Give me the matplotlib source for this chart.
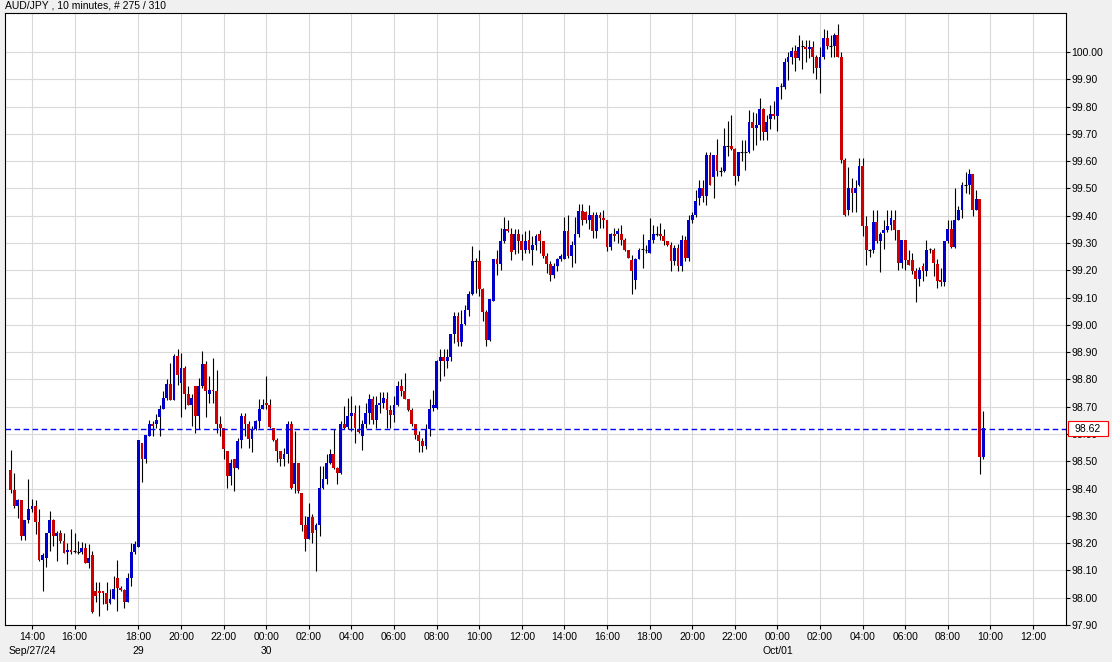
import matplotlib
matplotlib.use("Agg")
import matplotlib.pyplot as plt
from matplotlib.patches import Rectangle
from matplotlib.transforms import blended_transform_factory
import numpy as np

plt.rcParams['font.family'] = ['Liberation Sans', 'DejaVu Sans']

# ---- AUD/JPY 10-minute candles (bar index 0 .. 274) ----
opens = [
98.467,98.395,98.336,98.357,98.226,98.284,98.324,98.336,98.278,98.139,
98.147,98.236,98.284,98.226,98.236,98.208,98.168,98.174,98.171,98.168,
98.168,98.184,98.129,98.156,98.025,98.025,98.025,98.017,97.979,97.995,
98.074,98.034,98.029,97.985,98.074,98.166,98.187,98.566,98.507,98.592,
98.635,98.635,98.663,98.692,98.733,98.785,98.726,98.885,98.787,98.842,
98.745,98.705,98.775,98.666,98.775,98.855,98.745,98.763,98.757,98.635,
98.623,98.537,98.446,98.507,98.477,98.578,98.666,98.635,98.580,98.617,
98.647,98.692,98.715,98.705,98.623,98.578,98.537,98.510,98.525,98.635,
98.416,98.495,98.385,98.265,98.214,98.294,98.247,98.265,98.403,98.434,
98.495,98.525,98.474,98.456,98.635,98.627,98.666,98.676,98.619,98.593,
98.635,98.676,98.727,98.653,98.705,98.715,98.727,98.688,98.668,98.705,
98.776,98.757,98.727,98.688,98.635,98.595,98.574,98.556,98.617,98.696,
98.696,98.867,98.883,98.867,98.883,98.965,99.034,98.937,99.005,99.056,
99.113,99.235,99.235,99.133,99.048,98.946,99.087,99.243,99.224,99.306,
99.352,99.333,99.276,99.333,99.306,99.276,99.312,99.276,99.294,99.333,
99.306,99.251,99.223,99.184,99.215,99.243,99.243,99.345,99.251,99.294,
99.333,99.416,99.413,99.385,99.404,99.345,99.404,99.391,99.385,99.284,
99.333,99.333,99.333,99.312,99.276,99.239,99.166,99.243,99.276,99.273,
99.263,99.312,99.333,99.333,99.324,99.306,99.294,99.235,99.282,99.215,
99.312,99.245,99.385,99.404,99.465,99.501,99.474,99.623,99.543,99.623,
99.565,99.565,99.654,99.654,99.645,99.544,99.635,99.633,99.633,99.743,
99.723,99.733,99.791,99.706,99.755,99.772,99.764,99.873,99.873,99.965,
99.983,100.004,99.977,100.020,100.020,100.010,100.020,99.983,99.943,99.983,
100.050,100.022,100.022,100.062,99.983,99.605,99.422,99.501,99.485,99.513,
99.583,99.363,99.276,99.276,99.376,99.306,99.337,99.346,99.367,99.385,
99.346,99.227,99.312,99.237,99.237,99.196,99.168,99.215,99.196,99.276,
99.276,99.224,99.166,99.156,99.306,99.351,99.285,99.385,99.422,99.513,
99.513,99.553,99.422,99.461,98.517]

highs = [
98.543,98.458,98.363,98.357,98.284,98.434,98.363,98.357,98.324,98.165,
98.236,98.318,98.290,98.245,98.248,98.239,98.202,98.251,98.236,98.208,
98.204,98.202,98.196,98.170,98.056,98.058,98.025,98.056,98.031,98.080,
98.139,98.044,98.031,98.092,98.202,98.208,98.578,98.566,98.595,98.653,
98.647,98.672,98.708,98.757,98.802,98.861,98.895,98.912,98.897,98.848,
98.775,98.745,98.775,98.806,98.903,98.867,98.812,98.879,98.836,98.666,
98.623,98.537,98.507,98.507,98.586,98.678,98.678,98.647,98.629,98.653,
98.727,98.727,98.814,98.727,98.623,98.586,98.537,98.550,98.647,98.647,
98.610,98.495,98.385,98.300,98.348,98.306,98.275,98.483,98.483,98.525,
98.544,98.620,98.480,98.647,98.702,98.733,98.741,98.705,98.705,98.653,
98.715,98.745,98.739,98.739,98.753,98.753,98.753,98.705,98.739,98.794,
98.802,98.824,98.729,98.696,98.635,98.611,98.586,98.635,98.727,98.760,
98.873,98.912,98.912,98.912,98.965,99.046,99.046,99.056,99.074,99.123,
99.288,99.245,99.276,99.135,99.055,99.093,99.243,99.276,99.355,99.394,
99.385,99.355,99.352,99.352,99.333,99.345,99.348,99.324,99.333,99.349,
99.306,99.263,99.233,99.227,99.245,99.260,99.394,99.404,99.306,99.394,
99.443,99.443,99.416,99.440,99.413,99.413,99.413,99.422,99.385,99.336,
99.355,99.355,99.365,99.320,99.276,99.257,99.245,99.282,99.333,99.294,
99.392,99.367,99.361,99.373,99.352,99.306,99.304,99.294,99.296,99.330,
99.324,99.404,99.413,99.495,99.532,99.532,99.635,99.635,99.623,99.682,
99.580,99.721,99.747,99.770,99.650,99.635,99.678,99.678,99.788,99.779,
99.775,99.830,99.794,99.770,99.806,99.821,99.873,99.885,99.977,100.000,
100.020,100.025,100.062,100.044,100.044,100.044,100.040,99.990,100.020,100.084,
100.080,100.062,100.071,100.102,100.001,99.611,99.580,99.538,99.532,99.611,
99.611,99.398,99.278,99.422,99.422,99.340,99.385,99.422,99.422,99.422,
99.346,99.312,99.312,99.276,99.264,99.208,99.212,99.227,99.312,99.282,
99.282,99.242,99.208,99.306,99.385,99.385,99.501,99.434,99.522,99.562,
99.570,99.553,99.493,99.461,98.684]

lows = [
98.385,98.330,98.291,98.212,98.212,98.275,98.314,98.235,98.135,98.025,
98.114,98.171,98.190,98.135,98.202,98.165,98.123,98.159,98.165,98.159,
98.159,98.126,98.110,97.944,97.983,97.934,97.977,97.956,97.977,97.995,
97.952,98.025,97.964,97.983,98.044,98.160,98.187,98.424,98.492,98.592,
98.592,98.623,98.592,98.692,98.726,98.724,98.724,98.781,98.663,98.690,
98.705,98.631,98.605,98.617,98.770,98.663,98.714,98.714,98.605,98.592,
98.507,98.403,98.412,98.391,98.470,98.550,98.592,98.550,98.534,98.615,
98.623,98.692,98.692,98.622,98.574,98.497,98.483,98.483,98.495,98.400,
98.385,98.385,98.245,98.172,98.214,98.202,98.099,98.227,98.398,98.416,
98.490,98.470,98.416,98.452,98.620,98.617,98.611,98.566,98.602,98.541,
98.623,98.635,98.635,98.623,98.678,98.696,98.623,98.623,98.644,98.702,
98.739,98.727,98.684,98.629,98.580,98.534,98.534,98.544,98.593,98.684,
98.690,98.794,98.812,98.842,98.867,98.934,98.924,98.922,99.000,99.032,
99.110,99.117,99.105,99.013,98.922,98.940,99.087,99.184,99.200,99.300,
99.342,99.239,99.260,99.263,99.239,99.263,99.263,99.221,99.276,99.263,
99.245,99.190,99.162,99.172,99.199,99.233,99.240,99.245,99.211,99.227,
99.321,99.367,99.373,99.350,99.320,99.320,99.355,99.355,99.272,99.276,
99.306,99.300,99.291,99.270,99.245,99.113,99.130,99.243,99.208,99.263,
99.263,99.300,99.324,99.312,99.291,99.288,99.199,99.221,99.199,99.199,
99.233,99.233,99.373,99.394,99.440,99.452,99.440,99.513,99.465,99.544,
99.545,99.562,99.620,99.642,99.511,99.526,99.600,99.568,99.630,99.641,
99.660,99.678,99.678,99.678,99.718,99.755,99.711,99.828,99.865,99.898,
99.955,99.930,99.971,99.938,99.965,99.977,99.922,99.900,99.849,99.976,
100.010,99.980,99.980,99.980,99.593,99.400,99.404,99.412,99.412,99.510,
99.324,99.221,99.249,99.263,99.300,99.193,99.278,99.340,99.346,99.312,
99.200,99.208,99.202,99.221,99.188,99.083,99.142,99.160,99.180,99.263,
99.180,99.135,99.144,99.142,99.300,99.280,99.282,99.385,99.391,99.483,
99.480,99.400,99.422,98.452,98.507]

closes = [
98.395,98.336,98.357,98.226,98.284,98.324,98.336,98.278,98.139,98.156,
98.236,98.284,98.226,98.236,98.208,98.165,98.174,98.168,98.171,98.168,
98.184,98.129,98.147,97.949,98.007,98.017,98.017,97.977,97.995,98.031,
98.034,98.029,97.985,98.074,98.166,98.196,98.578,98.507,98.595,98.635,
98.630,98.653,98.692,98.733,98.785,98.726,98.885,98.818,98.842,98.745,
98.705,98.733,98.666,98.775,98.855,98.757,98.763,98.757,98.635,98.623,
98.544,98.446,98.495,98.477,98.574,98.666,98.635,98.580,98.617,98.647,
98.692,98.705,98.705,98.627,98.578,98.537,98.510,98.525,98.635,98.403,
98.495,98.390,98.265,98.214,98.294,98.239,98.265,98.403,98.434,98.495,
98.525,98.474,98.456,98.635,98.623,98.666,98.676,98.623,98.607,98.635,
98.676,98.727,98.653,98.705,98.715,98.733,98.688,98.668,98.705,98.776,
98.757,98.729,98.688,98.635,98.595,98.574,98.556,98.617,98.693,98.705,
98.867,98.883,98.867,98.883,98.965,99.034,98.937,99.005,99.056,99.113,
99.235,99.235,99.133,99.048,98.946,99.093,99.243,99.224,99.306,99.352,
99.345,99.267,99.333,99.306,99.276,99.306,99.276,99.294,99.324,99.306,
99.251,99.223,99.184,99.215,99.243,99.254,99.345,99.251,99.294,99.333,
99.416,99.385,99.385,99.404,99.345,99.404,99.391,99.385,99.284,99.333,
99.324,99.345,99.312,99.276,99.245,99.196,99.243,99.276,99.277,99.273,
99.312,99.333,99.334,99.324,99.306,99.294,99.235,99.282,99.215,99.312,
99.245,99.385,99.404,99.455,99.501,99.474,99.623,99.513,99.623,99.565,
99.565,99.654,99.655,99.645,99.544,99.635,99.633,99.633,99.743,99.723,
99.733,99.791,99.706,99.743,99.772,99.764,99.873,99.874,99.965,99.983,
100.004,99.977,100.020,100.021,100.010,100.020,99.983,99.943,99.983,100.050,
100.022,100.022,100.062,99.983,99.605,99.404,99.501,99.485,99.501,99.583,
99.363,99.276,99.276,99.376,99.306,99.334,99.346,99.363,99.391,99.346,
99.227,99.312,99.237,99.221,99.196,99.168,99.202,99.196,99.276,99.277,
99.227,99.160,99.156,99.306,99.351,99.285,99.385,99.422,99.513,99.513,
99.553,99.422,99.461,98.517,98.623]

current_price = 98.62

# time axis: bar index of each labelled tick, and its labels
tick_bars = [6, 18, 36, 48, 60, 72, 84, 96, 108, 120, 132, 144, 156, 168,
             180, 192, 204, 216, 228, 240, 252, 264, 276, 288]
tick_times = ["14:00", "16:00", "18:00", "20:00", "22:00", "00:00", "02:00",
              "04:00", "06:00", "08:00", "10:00", "12:00", "14:00", "16:00",
              "18:00", "20:00", "22:00", "00:00", "02:00", "04:00", "06:00",
              "08:00", "10:00", "12:00"]
tick_dates = {6: "Sep/27/24", 36: "29", 72: "30", 216: "Oct/01"}

title = "AUD/JPY , 10 minutes, # 275 / 310"

# ---- figure ----
W, H = 1112, 662
fig = plt.figure(figsize=(W / 100, H / 100), dpi=100, facecolor="#f0f0f0")
L, R, T, B = 5, 1066, 13, 625
ax = fig.add_axes([L / W, 1 - B / H, (R - L) / W, (B - T) / H])
ax.set_facecolor("white")

o = np.array(opens); h = np.array(highs); l = np.array(lows); c = np.array(closes)
x = np.arange(len(o))

RED = "#cc0000"
BLUE = "#0000cc"

# wicks
ax.vlines(x, l, h, color="black", lw=0.8, zorder=3)
# bodies
diff = c - o
doji = np.abs(diff) < 0.0025
up = (diff > 0) & ~doji
dn = (diff < 0) & ~doji
bw = 0.8
ax.bar(x[up], diff[up], bottom=o[up], width=bw, color=BLUE, lw=0, zorder=4)
ax.bar(x[dn], -diff[dn], bottom=c[dn], width=bw, color=RED, lw=0, zorder=4)
ax.hlines(c[doji], x[doji] - bw / 2, x[doji] + bw / 2, color="black", lw=0.8, zorder=4)

# current price line
ax.axhline(current_price, color="#0000ff", lw=1.0, ls=(0, (4, 2.5)), zorder=5)

# axes limits
ax.set_xlim(-1.6, 297.3)
ax.set_ylim(97.90, 100.143)

# grid
yt = np.round(np.arange(97.9, 100.001, 0.1), 2)
ax.set_yticks(yt)
ax.set_yticklabels([f"{v:.2f}" for v in yt])
ax.yaxis.tick_right()
labels = [t + ("\n" + tick_dates[b] if b in tick_dates else "") for b, t in zip(tick_bars, tick_times)]
ax.set_xticks(tick_bars)
ax.set_xticklabels(labels, linespacing=1.55)
ax.grid(True, color="#d9d9d9", lw=0.8, zorder=0)
ax.set_axisbelow(True)

ax.tick_params(axis="y", which="both", right=True, left=False, colors="black",
               length=3, width=0.8, pad=1, labelsize=7.5)
ax.tick_params(axis="x", colors="black", length=3, width=0.8, pad=2, labelsize=7.5)
for tl in ax.yaxis.get_ticklines() + ax.xaxis.get_ticklines():
    tl.set_color("red")

for s in ax.spines.values():
    s.set_color("black")
    s.set_linewidth(0.8)

# current price box on the right axis (drawn over the axis, as in the terminal)
tr = blended_transform_factory(ax.transAxes, ax.transData)
px_x = 1.0 / (R - L)
px_y = (100.143 - 97.90) / (B - T)
rect = Rectangle((1.0 + 2 * px_x, current_price - 7.5 * px_y), 40 * px_x, 15 * px_y,
                 transform=tr, facecolor="white", edgecolor="red", lw=0.8,
                 clip_on=False, zorder=10)
ax.add_patch(rect)
ax.text(1.0 + 22 * px_x, current_price, f"{current_price:.2f}", transform=tr,
        ha="center", va="center", fontsize=7.5, color="black", zorder=11, clip_on=False)

fig.text(5 / W, 1 - 6 / H, title, ha="left", va="center", fontsize=7.5, color="black")

fig.savefig("out.png", dpi=100, facecolor=fig.get_facecolor())
